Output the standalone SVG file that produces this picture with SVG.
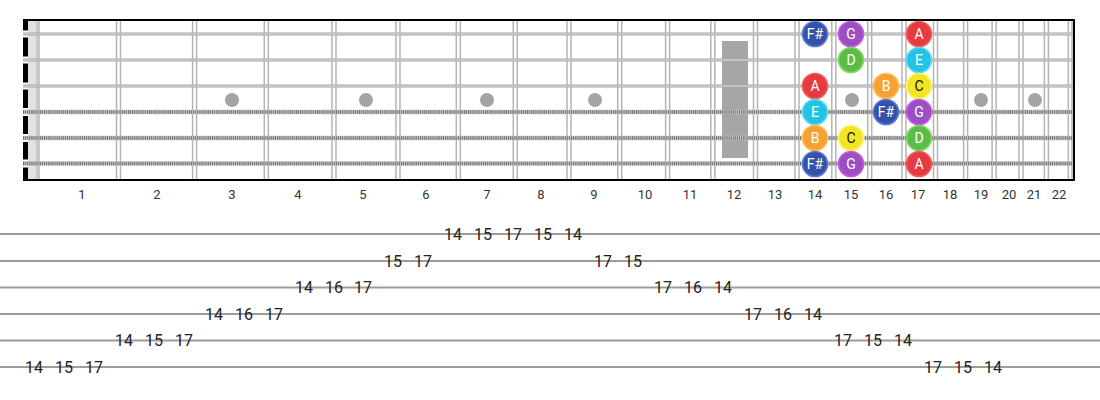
<svg xmlns="http://www.w3.org/2000/svg" width="1100" height="400" viewBox="0 0 1100 400">
<style>
.fret{stroke:#b4b4b4;stroke-width:1.5}
.plain{stroke:#a8a8a8;stroke-width:3.2}
.plainc{stroke:#dcdcdc;stroke-width:1}
.woundb{stroke:#c4c4c4;stroke-width:4.5}
.woundt{stroke:#707070;stroke-width:3.5;stroke-dasharray:1 1.1}
.dot{fill:#a4a4a4}
.gap{fill:#fff}
.fn{font-family:Roboto,"Liberation Sans",sans-serif;font-size:13px;fill:#333;text-anchor:middle}
.nc{stroke-width:1.6}
.nt{font-family:Roboto,"Liberation Sans",sans-serif;font-size:14px;fill:#fff;text-anchor:middle;dominant-baseline:central}
.ntd{fill:#111}
.tabl{stroke:#9c9c9c;stroke-width:2}
.tn{font-family:Roboto,"Liberation Sans",sans-serif;font-size:16px;fill:#222;text-anchor:middle;dominant-baseline:central}
.Fs{fill:#3453a8;stroke:#5a78dc}
.G{fill:#9a4fc2;stroke:#cc55e6}
.A{fill:#e63940;stroke:#f25c5c}
.D{fill:#5bbd48;stroke:#80dc62}
.E{fill:#22c3e4;stroke:#5cdaf2}
.B{fill:#f6a232;stroke:#ffbc52}
.C{fill:#f3e424;stroke:#fff46a}
</style>
<rect width="1100" height="400" fill="#fff"/>
<g id="fretboard">
  <rect x="28" y="20" width="12" height="160" fill="#e2e2e2"/>
  <rect x="36" y="20" width="4" height="160" fill="#c9c9c9"/>
  <rect id="fret12-marker" x="722" y="41" width="26" height="117" fill="#a6a6a6"/>
  <g id="frets">
    <line class="fret" x1="116.5" y1="20" x2="116.5" y2="180"/><line class="fret" x1="120.5" y1="20" x2="120.5" y2="180"/>
    <line class="fret" x1="192.6" y1="20" x2="192.6" y2="180"/><line class="fret" x1="196.6" y1="20" x2="196.6" y2="180"/>
    <line class="fret" x1="264.3" y1="20" x2="264.3" y2="180"/><line class="fret" x1="268.3" y1="20" x2="268.3" y2="180"/>
    <line class="fret" x1="332" y1="20" x2="332" y2="180"/><line class="fret" x1="336" y1="20" x2="336" y2="180"/>
    <line class="fret" x1="396" y1="20" x2="396" y2="180"/><line class="fret" x1="400" y1="20" x2="400" y2="180"/>
    <line class="fret" x1="456.3" y1="20" x2="456.3" y2="180"/><line class="fret" x1="460.3" y1="20" x2="460.3" y2="180"/>
    <line class="fret" x1="513.3" y1="20" x2="513.3" y2="180"/><line class="fret" x1="517.3" y1="20" x2="517.3" y2="180"/>
    <line class="fret" x1="567" y1="20" x2="567" y2="180"/><line class="fret" x1="571" y1="20" x2="571" y2="180"/>
    <line class="fret" x1="617.7" y1="20" x2="617.7" y2="180"/><line class="fret" x1="621.7" y1="20" x2="621.7" y2="180"/>
    <line class="fret" x1="665.6" y1="20" x2="665.6" y2="180"/><line class="fret" x1="669.6" y1="20" x2="669.6" y2="180"/>
    <line class="fret" x1="710.8" y1="20" x2="710.8" y2="180"/><line class="fret" x1="714.8" y1="20" x2="714.8" y2="180"/>
    <line class="fret" x1="753.5" y1="20" x2="753.5" y2="180"/><line class="fret" x1="757.5" y1="20" x2="757.5" y2="180"/>
    <line class="fret" x1="795" y1="20" x2="795" y2="180"/><line class="fret" x1="799" y1="20" x2="799" y2="180"/>
    <line class="fret" x1="831.8" y1="20" x2="831.8" y2="180"/><line class="fret" x1="835.8" y1="20" x2="835.8" y2="180"/>
    <line class="fret" x1="867.7" y1="20" x2="867.7" y2="180"/><line class="fret" x1="871.7" y1="20" x2="871.7" y2="180"/>
    <line class="fret" x1="902" y1="20" x2="902" y2="180"/><line class="fret" x1="906" y1="20" x2="906" y2="180"/>
    <line class="fret" x1="933.5" y1="20" x2="933.5" y2="180"/><line class="fret" x1="937.5" y1="20" x2="937.5" y2="180"/>
    <line class="fret" x1="963.6" y1="20" x2="963.6" y2="180"/><line class="fret" x1="967.6" y1="20" x2="967.6" y2="180"/>
    <line class="fret" x1="992.1" y1="20" x2="992.1" y2="180"/><line class="fret" x1="996.1" y1="20" x2="996.1" y2="180"/>
    <line class="fret" x1="1019" y1="20" x2="1019" y2="180"/><line class="fret" x1="1023" y1="20" x2="1023" y2="180"/>
    <line class="fret" x1="1044.4" y1="20" x2="1044.4" y2="180"/><line class="fret" x1="1048.4" y1="20" x2="1048.4" y2="180"/>
    <line class="fret" x1="1068.3" y1="20" x2="1068.3" y2="180"/><line class="fret" x1="1072" y1="20" x2="1072" y2="180"/>
  </g>
  <g id="inlays">
    <circle class="dot" cx="232" cy="100" r="7"/>
    <circle class="dot" cx="366" cy="100" r="7"/>
    <circle class="dot" cx="487" cy="100" r="7"/>
    <circle class="dot" cx="595" cy="100" r="7"/>
    <circle class="dot" cx="852" cy="100" r="7"/>
    <circle class="dot" cx="981" cy="100" r="7"/>
    <circle class="dot" cx="1035" cy="100" r="7"/>
  </g>
  <g id="nut">
    <rect x="23" y="19" width="5" height="162" fill="#000"/>
    <rect class="gap" x="23" y="30.5" width="5" height="7"/>
    <rect class="gap" x="23" y="56.5" width="5" height="7"/>
    <rect class="gap" x="23" y="82.5" width="5" height="7"/>
    <rect class="gap" x="23" y="108" width="5" height="8"/>
    <rect class="gap" x="23" y="134" width="5" height="8"/>
    <rect class="gap" x="23" y="159.5" width="5" height="8"/>
  </g>
  <g id="strings">
    <line class="plain" x1="23" y1="34" x2="1074" y2="34"/><line class="plainc" x1="23" y1="34" x2="1074" y2="34"/>
    <line class="plain" x1="23" y1="60" x2="1074" y2="60"/><line class="plainc" x1="23" y1="60" x2="1074" y2="60"/>
    <line class="plain" x1="23" y1="86" x2="1074" y2="86"/><line class="plainc" x1="23" y1="86" x2="1074" y2="86"/>
    <line class="woundb" x1="23" y1="112" x2="1074" y2="112"/><line class="woundt" x1="23" y1="112" x2="1074" y2="112"/>
    <line class="woundb" x1="23" y1="138" x2="1074" y2="138"/><line class="woundt" x1="23" y1="138" x2="1074" y2="138"/>
    <line class="woundb" x1="23" y1="163.5" x2="1074" y2="163.5"/><line class="woundt" x1="23" y1="163.5" x2="1074" y2="163.5"/>
  </g>
  <g id="border" stroke="#000" stroke-width="2" fill="none">
    <line x1="23" y1="20" x2="1075" y2="20"/>
    <line x1="23" y1="180" x2="1075" y2="180"/>
    <line x1="1074" y1="19" x2="1074" y2="181"/>
  </g>
</g>
<g id="fret-numbers">
  <text class="fn" x="82" y="199">1</text>
  <text class="fn" x="157" y="199">2</text>
  <text class="fn" x="232" y="199">3</text>
  <text class="fn" x="298" y="199">4</text>
  <text class="fn" x="363" y="199">5</text>
  <text class="fn" x="426" y="199">6</text>
  <text class="fn" x="487" y="199">7</text>
  <text class="fn" x="541" y="199">8</text>
  <text class="fn" x="594" y="199">9</text>
  <text class="fn" x="645" y="199">10</text>
  <text class="fn" x="690" y="199">11</text>
  <text class="fn" x="734" y="199">12</text>
  <text class="fn" x="775" y="199">13</text>
  <text class="fn" x="815" y="199">14</text>
  <text class="fn" x="851" y="199">15</text>
  <text class="fn" x="886" y="199">16</text>
  <text class="fn" x="918" y="199">17</text>
  <text class="fn" x="950" y="199">18</text>
  <text class="fn" x="981" y="199">19</text>
  <text class="fn" x="1009" y="199">20</text>
  <text class="fn" x="1034" y="199">21</text>
  <text class="fn" x="1059" y="199">22</text>
</g>
<g id="notes">
  <g id="n1-14"><circle class="nc Fs" cx="815" cy="34" r="12.5"/><text class="nt" x="815" y="34">F#</text></g>
  <g id="n1-15"><circle class="nc G" cx="851" cy="34" r="12.5"/><text class="nt" x="851" y="34">G</text></g>
  <g id="n1-17"><circle class="nc A" cx="919" cy="34" r="12.5"/><text class="nt" x="919" y="34">A</text></g>
  <g id="n2-15"><circle class="nc D" cx="851" cy="60" r="12.5"/><text class="nt" x="851" y="60">D</text></g>
  <g id="n2-17"><circle class="nc E" cx="919" cy="60" r="12.5"/><text class="nt" x="919" y="60">E</text></g>
  <g id="n3-14"><circle class="nc A" cx="815" cy="86" r="12.5"/><text class="nt" x="815" y="86">A</text></g>
  <g id="n3-16"><circle class="nc B" cx="886" cy="86" r="12.5"/><text class="nt" x="886" y="86">B</text></g>
  <g id="n3-17"><circle class="nc C" cx="919" cy="86" r="12.5"/><text class="nt ntd" x="919" y="86">C</text></g>
  <g id="n4-14"><circle class="nc E" cx="815" cy="112" r="12.5"/><text class="nt" x="815" y="112">E</text></g>
  <g id="n4-16"><circle class="nc Fs" cx="886" cy="112" r="12.5"/><text class="nt" x="886" y="112">F#</text></g>
  <g id="n4-17"><circle class="nc G" cx="919" cy="112" r="12.5"/><text class="nt" x="919" y="112">G</text></g>
  <g id="n5-14"><circle class="nc B" cx="815" cy="138" r="12.5"/><text class="nt" x="815" y="138">B</text></g>
  <g id="n5-15"><circle class="nc C" cx="851" cy="138" r="12.5"/><text class="nt ntd" x="851" y="138">C</text></g>
  <g id="n5-17"><circle class="nc D" cx="919" cy="138" r="12.5"/><text class="nt" x="919" y="138">D</text></g>
  <g id="n6-14"><circle class="nc Fs" cx="815" cy="164" r="12.5"/><text class="nt" x="815" y="164">F#</text></g>
  <g id="n6-15"><circle class="nc G" cx="851" cy="164" r="12.5"/><text class="nt" x="851" y="164">G</text></g>
  <g id="n6-17"><circle class="nc A" cx="919" cy="164" r="12.5"/><text class="nt" x="919" y="164">A</text></g>
</g>
<g id="tab-lines">
  <line class="tabl" x1="0" y1="234" x2="1100" y2="234"/>
  <line class="tabl" x1="0" y1="261" x2="1100" y2="261"/>
  <line class="tabl" x1="0" y1="287.5" x2="1100" y2="287.5"/>
  <line class="tabl" x1="0" y1="314" x2="1100" y2="314"/>
  <line class="tabl" x1="0" y1="340.5" x2="1100" y2="340.5"/>
  <line class="tabl" x1="0" y1="367" x2="1100" y2="367"/>
</g>
<g id="tab-numbers">
  <text class="tn" x="34" y="367">14</text>
  <text class="tn" x="64" y="367">15</text>
  <text class="tn" x="94" y="367">17</text>
  <text class="tn" x="124" y="340.5">14</text>
  <text class="tn" x="154" y="340.5">15</text>
  <text class="tn" x="184" y="340.5">17</text>
  <text class="tn" x="214" y="314">14</text>
  <text class="tn" x="244" y="314">16</text>
  <text class="tn" x="274" y="314">17</text>
  <text class="tn" x="304" y="287.5">14</text>
  <text class="tn" x="334" y="287.5">16</text>
  <text class="tn" x="363" y="287.5">17</text>
  <text class="tn" x="393" y="261">15</text>
  <text class="tn" x="423" y="261">17</text>
  <text class="tn" x="453" y="234">14</text>
  <text class="tn" x="483" y="234">15</text>
  <text class="tn" x="513" y="234">17</text>
  <text class="tn" x="543" y="234">15</text>
  <text class="tn" x="573" y="234">14</text>
  <text class="tn" x="603" y="261">17</text>
  <text class="tn" x="633" y="261">15</text>
  <text class="tn" x="663" y="287.5">17</text>
  <text class="tn" x="693" y="287.5">16</text>
  <text class="tn" x="723" y="287.5">14</text>
  <text class="tn" x="753" y="314">17</text>
  <text class="tn" x="783" y="314">16</text>
  <text class="tn" x="813" y="314">14</text>
  <text class="tn" x="843" y="340.5">17</text>
  <text class="tn" x="873" y="340.5">15</text>
  <text class="tn" x="903" y="340.5">14</text>
  <text class="tn" x="933" y="367">17</text>
  <text class="tn" x="963" y="367">15</text>
  <text class="tn" x="993" y="367">14</text>
</g>
</svg>
